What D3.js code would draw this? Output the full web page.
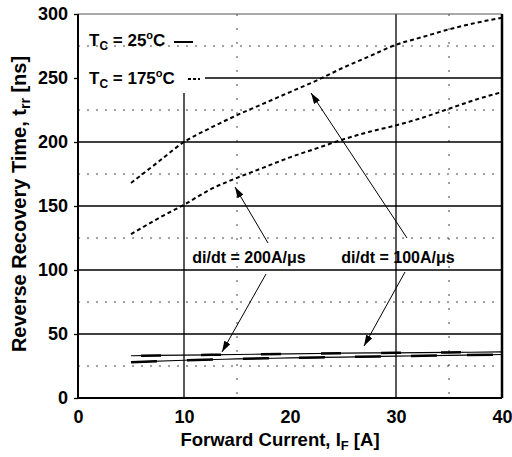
<!DOCTYPE html>
<html>
<head>
<meta charset="utf-8">
<script src="https://cdnjs.cloudflare.com/ajax/libs/d3/7.8.5/d3.min.js"></script>
<style>
  body { margin: 0; background: #fff; }
  text { font-family: "Liberation Sans", Arial, sans-serif; font-weight: bold; fill: #000; }
</style>
</head>
<body>
<div class="chart"></div>
<script>
// reverse recovery time vs forward current

var currentA = [5, 7.5, 10, 12.5, 15, 17.5, 20, 22.5, 25, 27.5, 30, 32.5, 35, 37.5, 40];
var trr175di100 = [168, 184, 200, 211, 221, 230, 239, 248, 258, 267, 276, 282, 288, 293, 297];
var trr175di200 = [128, 140, 151, 163, 172, 180, 188, 195, 202, 208, 213, 219, 226, 233, 239];

var current25 = [5, 10, 15, 20, 25, 30, 35, 40];
var trr25di100 = [33, 33.5, 34, 34.5, 35, 35.3, 35.6, 36];
var trr25di200 = [28, 29.5, 30.5, 31.3, 32, 32.7, 33.3, 34];

var xTicks = [0, 10, 20, 30, 40];
var yTicks = [0, 50, 100, 150, 200, 250, 300];
var xDotted = [15, 35];
var yDotted = [25, 75, 125, 175, 225, 275];

var width = 512, height = 457;
var pLeft = 78, pRight = 502, pTop = 14, pBottom = 398;

var x = d3.scaleLinear().domain([0, 40]).range([pLeft, pRight]);
var y = d3.scaleLinear().domain([0, 300]).range([pBottom, pTop]);

var svg = d3.select(".chart").append("svg")
    .attr("width", width)
    .attr("height", height);

svg.append("defs").append("marker")
    .attr("id", "head")
    .attr("viewBox", "0 0 11 7")
    .attr("refX", 11).attr("refY", 3.5)
    .attr("markerWidth", 11).attr("markerHeight", 7)
    .attr("markerUnits", "userSpaceOnUse")
    .attr("orient", "auto")
  .append("path")
    .attr("d", "M0,0L11,3.5L0,7Z");

// dotted grid
svg.selectAll(".hdot").data(yDotted).enter().append("line")
    .attr("x1", pLeft).attr("x2", pRight)
    .attr("y1", function(d) { return y(d); })
    .attr("y2", function(d) { return y(d); })
    .attr("stroke", "#444").attr("stroke-width", 1)
    .attr("stroke-dasharray", "2,7");

svg.selectAll(".vdot").data(xDotted).enter().append("line")
    .attr("y1", pTop).attr("y2", pBottom)
    .attr("x1", function(d) { return x(d); })
    .attr("x2", function(d) { return x(d); })
    .attr("stroke", "#444").attr("stroke-width", 1)
    .attr("stroke-dasharray", "2,12");

// solid grid
svg.selectAll(".hgrid").data([50, 100, 150, 200]).enter().append("line")
    .attr("x1", pLeft).attr("x2", pRight)
    .attr("y1", function(d) { return y(d); })
    .attr("y2", function(d) { return y(d); })
    .attr("stroke", "#000").attr("stroke-width", 1.3);

svg.append("line")
    .attr("x1", 205).attr("x2", pRight)
    .attr("y1", y(250)).attr("y2", y(250))
    .attr("stroke", "#000").attr("stroke-width", 1.3);

svg.append("line")
    .attr("x1", x(10)).attr("x2", x(10))
    .attr("y1", 93).attr("y2", pBottom)
    .attr("stroke", "#000").attr("stroke-width", 1.3);

svg.append("line")
    .attr("x1", x(30)).attr("x2", x(30))
    .attr("y1", pTop).attr("y2", pBottom)
    .attr("stroke", "#000").attr("stroke-width", 1.3);

// frame
svg.append("line").attr("x1", pLeft).attr("x2", pRight).attr("y1", pTop).attr("y2", pTop)
    .attr("stroke", "#555").attr("stroke-width", 1);
svg.append("line").attr("x1", pLeft).attr("x2", pLeft).attr("y1", pTop).attr("y2", pBottom)
    .attr("stroke", "#000").attr("stroke-width", 2);
svg.append("line").attr("x1", pRight).attr("x2", pRight).attr("y1", pTop).attr("y2", pBottom)
    .attr("stroke", "#000").attr("stroke-width", 2.5);
svg.append("line").attr("x1", pLeft).attr("x2", pRight).attr("y1", pBottom).attr("y2", pBottom)
    .attr("stroke", "#000").attr("stroke-width", 2);

// axes ticks and labels
var xAxis = d3.axisBottom(x).tickValues(xTicks).tickSize(0).tickPadding(12);
var gx = svg.append("g").attr("transform", "translate(0," + pBottom + ")").call(xAxis);
gx.select(".domain").remove();
gx.selectAll("text").style("font-size", "18px").style("font-family", "Liberation Sans, Arial, sans-serif").style("font-weight", "bold");

var yAxis = d3.axisLeft(y).tickValues(yTicks).tickSize(4).tickPadding(6);
var gy = svg.append("g").attr("transform", "translate(" + pLeft + ",0)").call(yAxis);
gy.select(".domain").remove();
gy.selectAll("line").attr("stroke", "#000").attr("stroke-width", 1.3);
gy.selectAll("text").style("font-size", "18px").style("font-family", "Liberation Sans, Arial, sans-serif").style("font-weight", "bold");

// axis titles
var xt = svg.append("text")
    .attr("x", 280).attr("y", 446)
    .attr("text-anchor", "middle")
    .style("font-size", "18.5px");
xt.append("tspan").text("Forward Current, I");
xt.append("tspan").attr("dy", 4).style("font-size", "13px").text("F");
xt.append("tspan").attr("dy", -4).text(" [A]");

var yt = svg.append("text")
    .attr("transform", "translate(26,204) rotate(-90)")
    .attr("text-anchor", "middle")
    .style("font-size", "20px");
yt.append("tspan").text("Reverse Recovery Time, t");
yt.append("tspan").attr("dy", 4).style("font-size", "14px").text("rr");
yt.append("tspan").attr("dy", -4).text(" [ns]");

// curves
var line = d3.line()
    .x(function(d) { return x(d[0]); })
    .y(function(d) { return y(d[1]); })
    .curve(d3.curveMonotoneX);

var hot = [trr175di100, trr175di200];
svg.selectAll(".hot").data(hot).enter().append("path")
    .attr("d", function(s) { return line(d3.zip(currentA, s)); })
    .attr("fill", "none").attr("stroke", "#000")
    .attr("stroke-width", 2)
    .attr("stroke-dasharray", "4,3");

var cold = [trr25di100, trr25di200];
svg.selectAll(".cold").data(cold).enter().append("path")
    .attr("d", function(s) { return line(d3.zip(current25, s)); })
    .attr("fill", "none").attr("stroke", "#000")
    .attr("stroke-width", 1.2);

svg.selectAll(".coldthick").data(cold).enter().append("path")
    .attr("d", function(s) { return line(d3.zip(current25, s)); })
    .attr("fill", "none").attr("stroke", "#000")
    .attr("stroke-width", 2.5)
    .attr("stroke-dasharray", function(d, i) { return i ? "26,30" : "20,40"; })
    .attr("stroke-dashoffset", function(d, i) { return i ? 0 : -70; });

// legend
var lg1 = svg.append("text").attr("x", 89).attr("y", 46).style("font-size", "17px");
lg1.append("tspan").text("T");
lg1.append("tspan").attr("dy", 4).style("font-size", "12px").text("C");
lg1.append("tspan").attr("dy", -4).text(" = 25");
lg1.append("tspan").attr("dy", -7).style("font-size", "11px").text("o");
lg1.append("tspan").attr("dy", 7).text("C");
svg.append("line").attr("x1", 174).attr("x2", 193).attr("y1", 42).attr("y2", 42)
    .attr("stroke", "#000").attr("stroke-width", 2);

var lg2 = svg.append("text").attr("x", 89).attr("y", 84).style("font-size", "17px");
lg2.append("tspan").text("T");
lg2.append("tspan").attr("dy", 4).style("font-size", "12px").text("C");
lg2.append("tspan").attr("dy", -4).text(" = 175");
lg2.append("tspan").attr("dy", -7).style("font-size", "11px").text("o");
lg2.append("tspan").attr("dy", 7).text("C");
svg.append("line").attr("x1", 188).attr("x2", 200).attr("y1", 79).attr("y2", 79)
    .attr("stroke", "#000").attr("stroke-width", 2)
    .attr("stroke-dasharray", "3,2");

// annotations
svg.append("text").attr("x", 249).attr("y", 263).attr("text-anchor", "middle")
    .style("font-size", "16px").text("di/dt = 200A/\u03bcs");
svg.append("text").attr("x", 398).attr("y", 263).attr("text-anchor", "middle")
    .style("font-size", "16px").text("di/dt = 100A/\u03bcs");

var arrows = [
  [268, 243, 235, 187],
  [266, 274, 222, 352],
  [407, 238, 311, 93],
  [405, 272, 364, 346]
];
svg.selectAll(".arrow").data(arrows).enter().append("line")
    .attr("x1", function(d) { return d[0]; })
    .attr("y1", function(d) { return d[1]; })
    .attr("x2", function(d) { return d[2]; })
    .attr("y2", function(d) { return d[3]; })
    .attr("stroke", "#000").attr("stroke-width", 1)
    .attr("marker-end", "url(#head)");
</script>
</body>
</html>
